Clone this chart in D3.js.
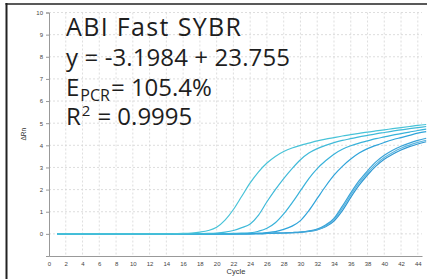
<!DOCTYPE html>
<html><head><meta charset="utf-8">
<script src="https://cdn.jsdelivr.net/npm/d3@7"></script>
<style>
html,body{margin:0;padding:0;background:#fff;}
svg{display:block;}
</style></head>
<body>
<svg id="chart" width="427" height="279"></svg>
<script>
// ---- data ----
const cycles = d3.range(1, 46); // 1..45
const xTicks = d3.range(0, 45, 2);
const yTicks = d3.range(0, 11, 1);
const annotation = {title: "ABI Fast SYBR", eq: "y = -3.1984 + 23.755", effMain: "E", effSub: "PCR", effRest: "= 105.4%", r2Main: "R", r2Sup: "2", r2Rest: "= 0.9995"};

// ΔRn per cycle (1..45)
const curve1 = [0,0,0,0,0,0,0,0,0,0,0,0,0,0,0.01,0.02,0.04,0.08,0.15,0.3,0.62,1.1,1.7,2.3,2.8,3.2,3.5,3.72,3.88,4.0,4.1,4.2,4.28,4.35,4.42,4.48,4.54,4.6,4.65,4.7,4.75,4.8,4.85,4.9,4.94];
const curve2 = [0,0,0,0,0,0,0,0,0,0,0,0,0,0,0,0,0,0.01,0.02,0.04,0.08,0.15,0.28,0.45,0.85,1.45,2.0,2.5,2.95,3.35,3.65,3.85,4.0,4.12,4.22,4.3,4.38,4.45,4.52,4.58,4.64,4.7,4.75,4.8,4.85];
const curve3 = [0,0,0,0,0,0,0,0,0,0,0,0,0,0,0,0,0,0,0,0,0.01,0.02,0.03,0.05,0.12,0.25,0.5,0.9,1.4,1.95,2.5,2.95,3.3,3.6,3.82,3.98,4.1,4.2,4.3,4.38,4.46,4.53,4.6,4.67,4.73];
const curve4 = [0,0,0,0,0,0,0,0,0,0,0,0,0,0,0,0,0,0,0,0,0,0,0.01,0.02,0.03,0.06,0.1,0.2,0.35,0.6,1.05,1.6,2.15,2.65,3.05,3.38,3.65,3.85,4.0,4.13,4.25,4.35,4.45,4.55,4.62];
const curve5a = [0,0,0,0,0,0,0,0,0,0,0,0,0,0,0,0,0,0,0,0,0,0,0,0,0.01,0.02,0.03,0.04,0.06,0.08,0.13,0.22,0.4,0.7,1.25,1.85,2.4,2.85,3.25,3.55,3.78,3.96,4.1,4.22,4.32];
const curve5b = [0,0,0,0,0,0,0,0,0,0,0,0,0,0,0,0,0,0,0,0,0,0,0,0,0.01,0.02,0.03,0.04,0.06,0.08,0.12,0.2,0.36,0.64,1.15,1.75,2.3,2.75,3.15,3.45,3.68,3.87,4.01,4.13,4.23];
const curve5c = [0,0,0,0,0,0,0,0,0,0,0,0,0,0,0,0,0,0,0,0,0,0,0,0,0.01,0.02,0.03,0.04,0.05,0.07,0.11,0.18,0.32,0.58,1.05,1.65,2.2,2.66,3.06,3.37,3.6,3.79,3.94,4.06,4.16];

const seriesList = [
  {values: curve5c, color: "#2f98d2"},
  {values: curve5b, color: "#5cb6e0"},
  {values: curve5a, color: "#3aa4d8"},
  {values: curve4, color: "#2fa4da"},
  {values: curve3, color: "#38b2da"},
  {values: curve2, color: "#40bad9"},
  {values: curve1, color: "#48c3d8"}
];

// ---- layout ----
const svg = d3.select("#chart");
const x = d3.scaleLinear().domain([0, 44.5]).range([49, 422]);
const y = d3.scaleLinear().domain([-1, 10]).range([256, 12.5]);

// frame
svg.append("line").attr("x1", 6.5).attr("x2", 6.5).attr("y1", 3).attr("y2", 279)
  .attr("stroke", "#222").attr("stroke-width", 2);
svg.append("line").attr("x1", 5.5).attr("x2", 427).attr("y1", 4).attr("y2", 4)
  .attr("stroke", "#222").attr("stroke-width", 1.5);

// grid
const grid = svg.append("g");
grid.selectAll("line.v").data(xTicks.filter(d => d > 0)).join("line")
  .attr("x1", d => x(d)).attr("x2", d => x(d)).attr("y1", y(10)).attr("y2", y(-1))
  .attr("stroke", "#d6d6d6").attr("stroke-width", 0.8).attr("stroke-dasharray", "2,2");
grid.selectAll("line.h").data(yTicks).join("line")
  .attr("x1", x(0)).attr("x2", x(44.5)).attr("y1", d => y(d)).attr("y2", d => y(d))
  .attr("stroke", "#d6d6d6").attr("stroke-width", 0.8).attr("stroke-dasharray", "2,2");

// axes
const xAxis = d3.axisBottom(x).tickValues(xTicks).tickSize(0).tickPadding(6);
const yAxis = d3.axisLeft(y).tickValues(yTicks).tickSize(3).tickPadding(3);
const gx = svg.append("g").attr("transform", `translate(0,${y(-1)})`).call(xAxis);
const gy = svg.append("g").attr("transform", `translate(${x(0)},0)`).call(yAxis);
[gx, gy].forEach(g => {
  g.select(".domain").attr("stroke", "#999").attr("stroke-width", 1);
  g.selectAll(".tick line").attr("stroke", "#999");
  g.selectAll("text").attr("font-family", "Liberation Sans, Arial, sans-serif")
    .attr("font-size", 6).attr("fill", "#444");
});

// axis titles
svg.append("text").attr("x", 236).attr("y", 274).attr("text-anchor", "middle")
  .attr("font-family", "Liberation Sans, Arial, sans-serif").attr("font-size", 7.5).attr("fill", "#333")
  .text("Cycle");
svg.append("text").attr("transform", `translate(26,${(y(10)+y(-1))/2}) rotate(-90)`)
  .attr("text-anchor", "middle")
  .attr("font-family", "Liberation Sans, Arial, sans-serif").attr("font-size", 6.5).attr("fill", "#333")
  .text("ΔRn");

// curves
const line = d3.line().x((d, i) => x(cycles[i])).y(d => y(d)).curve(d3.curveMonotoneX);
svg.append("g").selectAll("path").data(seriesList).join("path")
  .attr("d", s => line(s.values))
  .attr("fill", "none").attr("stroke", s => s.color).attr("stroke-width", 1.2);

// annotation
const ann = svg.append("g").attr("font-family", "Open Sans, sans-serif").attr("fill", "#1e1e1e").attr("font-size", 24);
ann.append("text").attr("x", 66).attr("y", 36).attr("font-size", 25).attr("textLength", 175).attr("lengthAdjust", "spacing").text(annotation.title);
ann.append("text").attr("x", 66).attr("y", 66).attr("textLength", 224).attr("lengthAdjust", "spacing").text(annotation.eq);

function composite(yBase, main, small, rest, smallSize, smallDy, gap1, gap2) {
  const t1 = ann.append("text").attr("x", 66).attr("y", yBase).text(main);
  const w1 = t1.node().getComputedTextLength();
  const t2 = ann.append("text").attr("x", 66 + w1 + gap1).attr("y", yBase + smallDy)
    .attr("font-size", smallSize).text(small);
  const w2 = t2.node().getComputedTextLength();
  ann.append("text").attr("x", 66 + w1 + gap1 + w2 + gap2).attr("y", yBase).text(rest);
}
composite(96, annotation.effMain, annotation.effSub, annotation.effRest, 16, 5, 1, 1);
composite(125, annotation.r2Main, annotation.r2Sup, annotation.r2Rest, 15, -9, 1, 7);
</script>
</body></html>
